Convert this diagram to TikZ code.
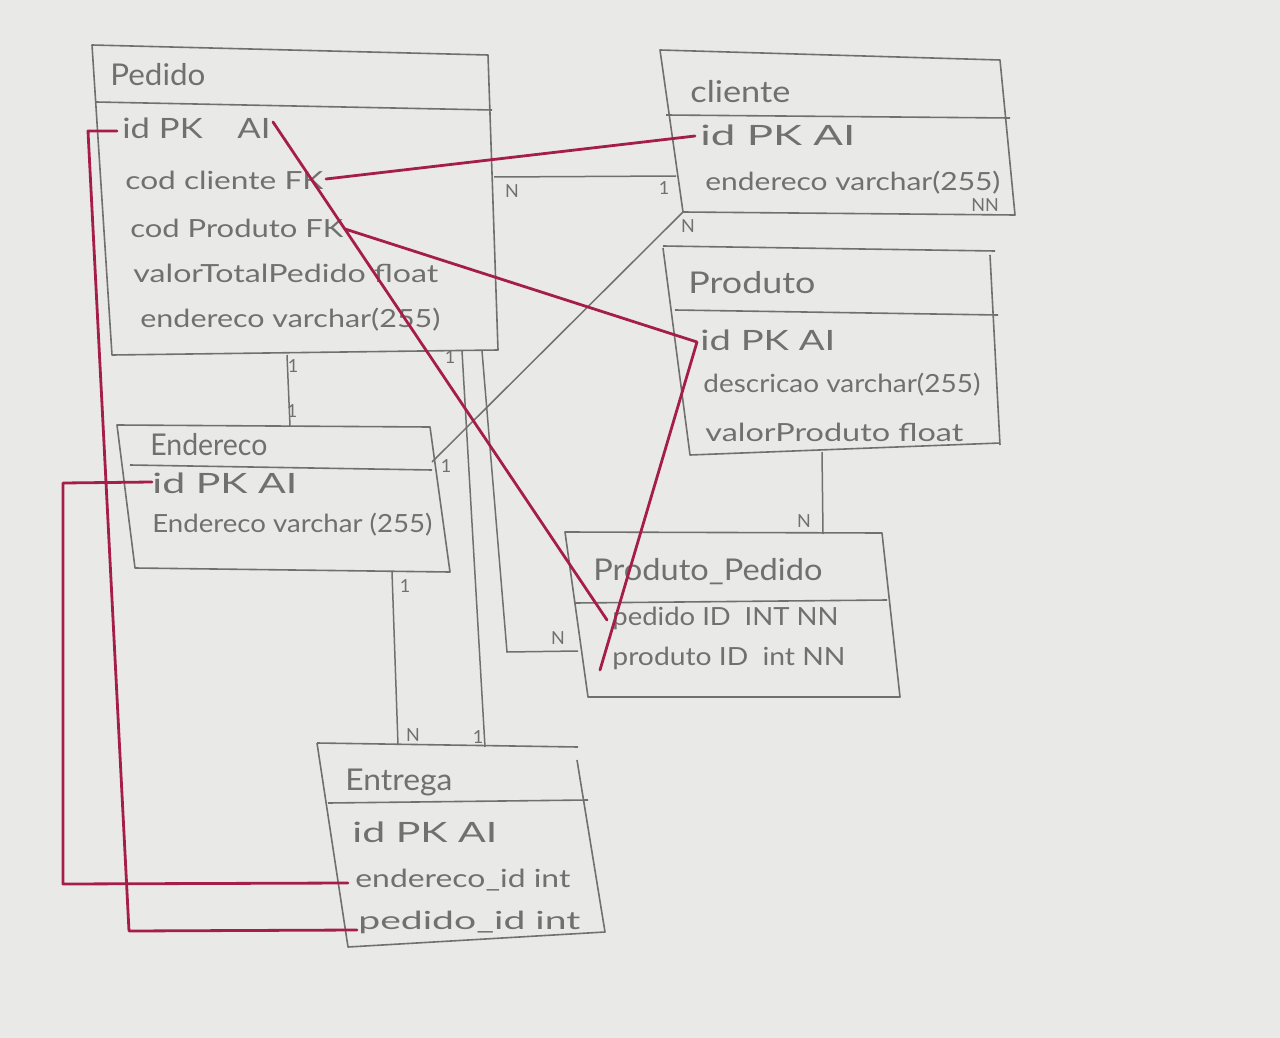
\documentclass[tikz,border=0pt]{standalone}
\usepackage{fontspec}
\setmainfont{Lato}
\usepackage{graphicx}
\definecolor{paper}{RGB}{233,233,231}
\definecolor{pencil}{RGB}{112,112,112}
\definecolor{ink}{RGB}{165,30,75}
\newcommand\fw[2]{\resizebox{0.5\dimexpr #1pt\relax}{\height}{#2}}
\begin{document}
\begin{tikzpicture}[x=0.5pt,y=-0.5pt,
  box/.style={draw=pencil, line width=0.8pt, line join=round},
  rel/.style={draw=pencil, line width=0.75pt},
  fk/.style={draw=ink, line width=1.4pt, line cap=round, line join=round},
  fld/.style={anchor=west, inner sep=0pt, text=pencil, font=\fontsize{12.5}{14}\selectfont},
  key/.style={fld, font=\fontsize{14}{16}\selectfont},
  ttl/.style={anchor=west, inner sep=0pt, text=pencil, font=\fontsize{15}{18}\selectfont},
  card/.style={inner sep=0pt, text=pencil, font=\fontsize{9}{10}\selectfont}]
\fill[paper] (0,0) rectangle (1280,1038);
\useasboundingbox (0,0) rectangle (1280,1038);

% ---------- Pedido ----------
\draw[box] (92,45) -- (488,55) -- (498,350) -- (112,355) -- cycle;
\draw[box] (96,102) -- (492,110);
\node[ttl] (pedT) at (110,75) {\fw{95}{Pedido}};
\node[key] (pedId)  at (122,128) {\fw{148}{id PK\quad AI}};
\node[fld] (pedCli) at (125,180) {\fw{198}{cod cliente FK}};
\node[fld] (pedPro) at (130,228) {\fw{213}{cod Produto FK}};
\node[fld] (pedVal) at (133,273) {\fw{305}{valorTotalPedido float}};
\node[fld] (pedEnd) at (140,320) {\fw{300}{endereco varchar(255)}};

% ---------- Cliente ----------
\draw[box] (660,50) -- (1000,60) -- (1015,215) -- (683,212) -- cycle;
\draw[box] (666,115) -- (1010,118);
\node[ttl] (cliT) at (690,92) {\fw{100}{cliente}};
\node[key] (cliId)  at (700,135) {\fw{155}{id PK AI}};
\node[fld] (cliEnd) at (705,183) {\fw{295}{endereco varchar(255)}};
\node[card] (cliNN) at (985,205) {NN};

% ---------- Produto ----------
\draw[box] (663,246) -- (995,251);
\draw[box] (990,255) -- (1000,445);
\draw[box] (663,248) -- (690,455) -- (1000,443);
\draw[box] (675,310) -- (998,315);
\node[ttl] (proT) at (688,283) {\fw{127}{Produto}};
\node[key] (proId)  at (700,340) {\fw{135}{id PK AI}};
\node[fld] (proDes) at (703,385) {\fw{277}{descricao varchar(255)}};
\node[fld] (proVal) at (705,432) {\fw{258}{valorProduto float}};

% ---------- Endereco ----------
\draw[box] (117,425) -- (430,427) -- (450,572) -- (135,568) -- cycle;
\draw[box] (130,465) -- (432,470);
\node[ttl] (endT) at (150,445) {\fw{117}{Endereco}};
\node[key] (endId)  at (152,483) {\fw{145}{id PK AI}};
\node[fld] (endEnd) at (152,525) {\fw{280}{Endereco varchar (255)}};

% ---------- Produto_Pedido ----------
\draw[box] (565,532) -- (882,533) -- (900,697) -- (588,697) -- cycle;
\draw[box] (575,603) -- (887,600);
\node[ttl] (ppT) at (593,572) {\fw{229}{Produto\_Pedido}};
\node[fld] (ppPed) at (612,618) {\fw{226}{pedido ID\enspace INT NN}};
\node[fld] (ppPro) at (612,658) {\fw{233}{produto ID\enspace int NN}};

% ---------- Entrega ----------
\draw[box] (317,743) -- (578,747);
\draw[box] (577,760) -- (605,932) -- (348,947) -- (317,743);
\draw[box] (328,803) -- (588,800);
\node[ttl] (entT) at (345,782) {\fw{107}{Entrega}};
\node[key] (entId)  at (352,832) {\fw{145}{id PK AI}};
\node[fld] (entEnd) at (355,880) {\fw{215}{endereco\_id int}};
\node[fld] (entPed) at (358,922) {\fw{222}{pedido\_id int}};

% ---------- relationship lines (pencil) ----------
\coordinate (g1a) at (494,177);  \coordinate (g1b) at (676,176);
\draw[rel] (g1a) -- (g1b);
\node[card] (g1n) at (512,191) {N};
\node[card] (g1o) at (664,188) {1};

\coordinate (g2a) at (432,462);  \coordinate (g2b) at (683,212);
\draw[rel] (g2a) -- (g2b);
\node[card] (g2o) at (446,466) {1};
\node[card] (g2n) at (688,226) {N};

\coordinate (g3a) at (287,355);  \coordinate (g3b) at (290,426);
\draw[rel] (g3a) -- (g3b);
\node[card] (g3o) at (293,366) {1};
\node[card] (g3p) at (292,411) {1};

\coordinate (g4a) at (462,351);  \coordinate (g4b) at (485,747);
\draw[rel] (g4a) -- (g4b);
\node[card] (g4o) at (450,357) {1};
\node[card] (g4p) at (478,737) {1};

\coordinate (g5a) at (482,351);  \coordinate (g5m) at (507,652);  \coordinate (g5b) at (578,651);
\draw[rel] (g5a) -- (g5m) -- (g5b);
\node[card] (g5n) at (558,638) {N};

\coordinate (g6a) at (392,572);  \coordinate (g6b) at (398,745);
\draw[rel] (g6a) -- (g6b);
\node[card] (g6o) at (405,586) {1};
\node[card] (g6n) at (413,735) {N};

\coordinate (g7a) at (822,452);  \coordinate (g7b) at (823,534);
\draw[rel] (g7a) -- (g7b);
\node[card] (g7n) at (804,521) {N};

% ---------- foreign keys (red) ----------
\coordinate (r1a) at (117,131);  \coordinate (r1b) at (88,131);
\coordinate (r1c) at (129,931);  \coordinate (r1d) at (357,930);
\draw[fk] (r1a) -- (r1b) -- (r1c) -- (r1d);

\coordinate (r2a) at (152,482);  \coordinate (r2b) at (63,483);
\coordinate (r2c) at (63,884);   \coordinate (r2d) at (348,883);
\draw[fk] (r2a) -- (r2b) -- (r2c) -- (r2d);

\coordinate (r3a) at (273,122);  \coordinate (r3b) at (607,620);
\draw[fk] (r3a) -- (r3b);

\coordinate (r4a) at (326,179);  \coordinate (r4b) at (695,136);
\draw[fk] (r4a) -- (r4b);

\coordinate (r5a) at (345,229);  \coordinate (r5b) at (697,342);  \coordinate (r5c) at (600,670);
\draw[fk] (r5a) -- (r5b) -- (r5c);
\end{tikzpicture}
\end{document}
